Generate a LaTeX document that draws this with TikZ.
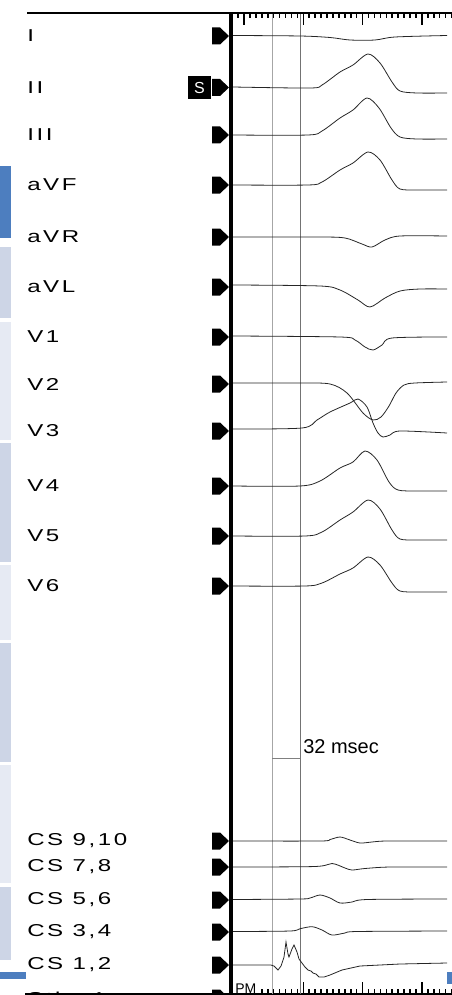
\documentclass[tikz,border=0pt]{standalone}
\usepackage{fontspec}
\setmainfont{Liberation Sans}
\newfontfamily\leadfont[FakeStretch=1.4, LetterSpace=15]{Liberation Sans}
\definecolor{tabblue}{HTML}{4D7EBF}
\definecolor{tabgray}{HTML}{CDD5E6}
\definecolor{tablight}{HTML}{E6EAF3}

\begin{document}
\begin{tikzpicture}[x=0.75pt, y=-0.75pt,
    trace/.style={black!85, line width=0.6pt},
    lead/.style={anchor=west, inner sep=0pt, font=\leadfont\fontsize{12.9}{14}\selectfont},
    caliper/.style={line width=0.6pt}]
    \useasboundingbox (0,0) rectangle (452,995);
    \clip (0,0) rectangle (452,995);
    % side tabs
    \fill[tabblue] (0,166) rectangle (11,238);
    \fill[tabgray] (0,247) rectangle (11,318);
    \fill[tablight] (0,322) rectangle (11,440);
    \fill[tabgray] (0,443) rectangle (11,562);
    \fill[tablight] (0,565) rectangle (11,640);
    \fill[tabgray] (0,643) rectangle (11,762);
    \fill[tablight] (0,765) rectangle (11,883);
    \fill[tabgray] (0,887) rectangle (11,960);
    \fill[tabblue] (0,972) rectangle (26,979);
    \fill[tabblue] (447,972) rectangle (452,984);
    % frame
    \coordinate (TL) at (27,13);
    \coordinate (TR) at (452,13);
    \coordinate (BL) at (25,994);
    \coordinate (BR) at (452,994);
    \coordinate (AT) at (231,13);
    \coordinate (AB) at (231,995);
    \draw[line width=1.2pt] (TL) -- (TR);
    \draw[line width=1.2pt] (BL) -- (BR);
    % ruler ticks
    \foreach \k in {-1,...,35}{
        \pgfmathsetmacro{\tx}{244+5.93*\k}
        \pgfmathtruncatemacro{\mj}{mod(\k+10,10)==0}
        \ifnum\mj=1
            \draw[line width=1.2pt] (\tx,13) -- (\tx,25);
        \else
            \draw[line width=1.2pt] (\tx,13) -- (\tx,18.5);
        \fi
    }
    \foreach \k in {3,...,35}{
        \pgfmathsetmacro{\tx}{244+5.93*\k}
        \pgfmathtruncatemacro{\mj}{mod(\k,10)==0}
        \ifnum\mj=1
            \draw[line width=1.2pt] (\tx,994) -- (\tx,982);
        \else
            \draw[line width=1.2pt] (\tx,994) -- (\tx,988.5);
        \fi
    }
    \node[anchor=south west, inner sep=0pt, font=\fontsize{10.5}{12}\selectfont] (pm) at (235,994) {PM};
    % calipers
    \coordinate (C1t) at (272,14);
    \coordinate (C1b) at (272,994);
    \coordinate (C2t) at (300,14);
    \coordinate (C2b) at (300,994);
    \coordinate (C1m) at (272,758);
    \coordinate (C2m) at (300,758);
    \draw[caliper, black!35] (C1t) -- (C1b);
    \draw[caliper, black!55] (C2t) -- (C2b);
    \draw[caliper, black!50] (C1m) -- (C2m);
    \node[anchor=west, inner sep=0pt, font=\fontsize{15}{18}\selectfont] (msec) at (303,747) {32 msec};
    % axis
    \draw[line width=2.3pt] (AT) -- (AB);
    % leads and markers
    \foreach \name/\y [count=\i] in {I/36, II/87.5, III/135, aVF/185, aVR/237, aVL/287,
        V1/337, V2/384, V3/431, V4/486, V5/536, V6/586,
        {CS 9,10}/841, {CS 7,8}/867, {CS 5,6}/900, {CS 3,4}/932, {CS 1,2}/965, {Stim 1}/998}{
        \node[lead] (lead\i) at (27,\y) {\name};
        \fill (212,\y-8.5) -- (220,\y-8.5) -- (229,\y) -- (220,\y+8.5) -- (212,\y+8.5) -- cycle;
    }
    \node[fill=black, text=white, inner sep=0pt, minimum size=17, font=\fontsize{12}{12}\selectfont] (sync) at (199.5,87.5) {S};
    % ECG traces
    \draw[trace] plot[smooth, tension=0.5] coordinates {(233,35.5) (300,36) (330,37.5) (350,40) (375,40) (395,37) (447,35.5)};
    \draw[trace] plot[smooth, tension=0.5] coordinates {(233,87) (310,88) (322,85) (340,72) (353,65) (368,54) (380,63) (392,82) (400,91) (417,93) (447,93)};
    \draw[trace] plot[smooth, tension=0.5] coordinates {(233,135) (308,135) (322,131) (340,118) (353,110) (367,98) (379,108) (391,128) (400,137) (417,139) (447,139)};
    \draw[trace] plot[smooth, tension=0.5] coordinates {(233,185) (308,185) (322,182) (340,170) (353,163) (368,152) (380,160) (392,180) (400,189) (417,190) (447,190)};
    \draw[trace] plot[smooth, tension=0.5] coordinates {(233,237) (320,237) (345,238) (362,244) (372,247) (385,240) (400,236) (447,236)};
    \draw[trace] plot[smooth, tension=0.5] coordinates {(233,285) (320,286) (340,290) (358,300) (370,307) (385,298) (400,291) (420,289) (447,289)};
    \draw[trace] plot[smooth, tension=0.5] coordinates {(233,336) (340,337) (355,340) (365,347) (373,350) (382,345) (392,338) (447,337)};
    \draw[trace] plot[smooth, tension=0.5] coordinates {(233,383) (300,383) (330,384) (347,393) (363,413) (373,420) (381,417) (389,406) (396,393) (404,385) (415,383) (447,382)};
    \draw[trace] plot[smooth, tension=0.5] coordinates {(233,429) (302,428) (317,420) (330,412) (350,403) (358,399) (367,407) (373,423) (378,433) (383,437) (390,435) (400,431) (447,433)};
    \draw[trace] plot[smooth, tension=0.5] coordinates {(233,486) (300,486) (320,481) (340,468) (353,462) (365,451) (377,460) (389,482) (398,490) (417,491) (447,491)};
    \draw[trace] plot[smooth, tension=0.5] coordinates {(233,536) (305,536) (322,532) (340,520) (353,512) (368,500) (380,509) (392,530) (400,539) (417,540) (447,540)};
    \draw[trace] plot[smooth, tension=0.5] coordinates {(233,586) (305,586) (322,583) (340,574) (353,568) (368,557) (380,565) (392,583) (400,591) (417,592) (447,592)};
    % CS traces
    \draw[trace] plot[smooth, tension=0.5] coordinates {(233,841) (320,841) (330,839.5) (340,837) (350,840) (360,843) (372,842) (387,841) (447,841)};
    \draw[trace] plot[smooth, tension=0.5] coordinates {(233,867) (315,866.5) (332,863.5) (345,868) (352,870) (365,868.5) (390,867) (447,867)};
    \draw[trace] plot[smooth, tension=0.5] coordinates {(233,899.5) (300,899) (310,898) (320,895) (330,898) (340,903) (352,902) (367,899.5) (447,899)};
    \draw[trace] plot[smooth, tension=0.5] coordinates {(233,931.5) (290,931) (300,928.7) (312,926.7) (322,930) (332,935) (345,933) (357,931.5) (447,931)};
    \draw[trace] (233,965) -- (271,965) -- (274,966) -- (278,970) -- (281,966) -- (282,963) -- (284,957) -- (286,942) -- (288,954) -- (289,957) -- (292,949) -- (294,945) -- (297,952) -- (299,959) -- (302,963) -- (305,967) -- (308,970) -- (311,971) -- (313,973) -- (316,974) -- (319,977) -- (324,977) -- (330,975) -- (342,970) -- (360,966) -- (400,964) -- (447,963);
\end{tikzpicture}
\end{document}
